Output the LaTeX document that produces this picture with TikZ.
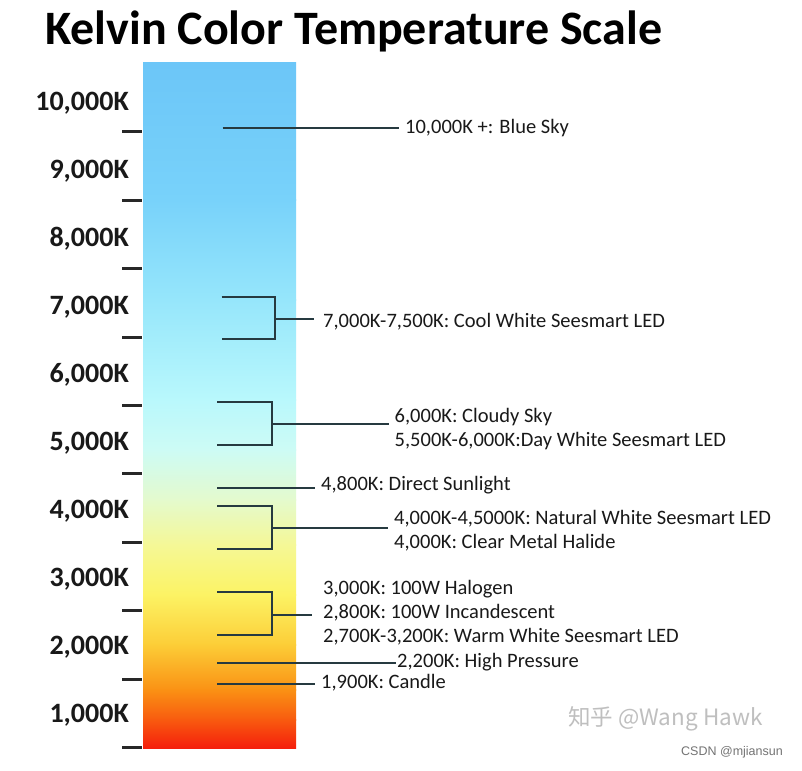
\documentclass[tikz,border=0pt]{standalone}
\usepackage{fontspec}
\setmainfont{Carlito}
\newfontfamily\cjkfont{Noto Sans CJK SC}
\newfontfamily\wmfont{Liberation Sans}
\usepackage{tikz}
\usetikzlibrary{calc}
\definecolor{txtc}{RGB}{25,25,25}
\definecolor{linec}{RGB}{38,58,64}
\definecolor{tickc}{RGB}{40,40,40}
% bar colours, top to bottom
\definecolor{kA}{RGB}{108,198,248}
\definecolor{kB}{RGB}{120,210,250}
\definecolor{kC}{RGB}{150,230,251}
\definecolor{kD}{RGB}{185,248,252}
\definecolor{kE}{RGB}{205,251,245}
\definecolor{kF}{RGB}{228,250,205}
\definecolor{kG}{RGB}{245,248,150}
\definecolor{kH}{RGB}{252,243,100}
\definecolor{kI}{RGB}{252,205,55}
\definecolor{kJ}{RGB}{250,145,20}
\definecolor{kK}{RGB}{248,90,15}
\definecolor{kL}{RGB}{245,30,12}

\begin{document}
\begin{tikzpicture}[x=1pt, y=-1pt,
  axislbl/.style={anchor=east, inner sep=0pt, font=\fontsize{28}{30}\selectfont\bfseries, text=txtc},
  tickmark/.style={line width=3pt, draw=tickc},
  lbl/.style={anchor=west, inner xsep=6pt, inner ysep=0pt, align=left, font=\fontsize{20.5}{24}\selectfont, text=txtc},
  conn/.style={line width=1.7pt, draw=linec}]
  \useasboundingbox[fill=white] (0,0) rectangle (802,770);
  % Title
  \node[anchor=base west, inner sep=0pt, font=\fontsize{48}{50}\selectfont\bfseries, text=black] (title) at (45,45) {Kelvin Color Temperature Scale};
  % Colour bar
  \foreach \ya/\yb/\ca/\cb in {63/200/kA/kB, 200/300/kB/kC, 300/400/kC/kD, 400/450/kD/kE,
      450/500/kE/kF, 500/545/kF/kG, 545/595/kG/kH, 595/645/kH/kI, 645/690/kI/kJ,
      690/720/kJ/kK, 720/748/kK/kL}
    \shade[top color=\ca, bottom color=\cb] (143,\ya-0.4) rectangle (296,\yb+0.4);
  % Scale: labels and ticks
  \foreach \v [count=\k from 0] in {10,9,8,7,6,5,4,3,2,1} {
    \node[axislbl] (k\v) at (129,{103+68*\k}) {\v,000K};
    \draw[tickmark] (122,{131.7+68.44*\k}) -- (142,{131.7+68.44*\k});
  }
  % Blue sky
  \coordinate (sky-a) at (222.7,128.3);
  \node[lbl] (sky) at (399,128) {10,000K +: Blue Sky};
  \draw[conn] (sky-a) -- (sky-a -| sky.west);
  % Cool white LED
  \coordinate (cw-a) at (221.7,296.7);
  \coordinate (cw-b) at (221.7,339.3);
  \coordinate (cw-j) at (275.3,319);
  \node[lbl] (cool) at (317,322) {7,000K-7,500K: Cool White Seesmart LED};
  \draw[conn] (cw-a) -| (cw-j) |- (cw-b);
  \draw[conn, shorten >=3pt] (cw-j) -- (cw-j -| cool.west);
  % Cloudy sky, day white LED
  \coordinate (cs-a) at (217.3,401.7);
  \coordinate (cs-b) at (217.3,445);
  \coordinate (cs-j) at (271.7,424.3);
  \node[lbl] (cloudy) at (388.5,429) {6,000K: Cloudy Sky\\5,500K-6,000K:Day White Seesmart LED};
  \draw[conn] (cs-a) -| (cs-j) |- (cs-b);
  \draw[conn] (cs-j) -- (cs-j -| cloudy.west);
  % Direct sunlight
  \coordinate (sun-a) at (217.3,488.3);
  \node[lbl] (sun) at (315,485) {4,800K: Direct Sunlight};
  \draw[conn] (sun-a) -- (sun-a -| sun.west);
  % Natural white LED, metal halide
  \coordinate (nw-a) at (217.3,505.7);
  \coordinate (nw-b) at (217.3,549);
  \coordinate (nw-j) at (271.7,527.7);
  \node[lbl] (natural) at (388,531) {4,000K-4,5000K: Natural White Seesmart LED\\4,000K: Clear Metal Halide};
  \draw[conn] (nw-a) -| (nw-j) |- (nw-b);
  \draw[conn] (nw-j) -- (nw-j -| natural.west);
  % Halogen, incandescent, warm white LED
  \coordinate (hw-a) at (217.3,592.3);
  \coordinate (hw-b) at (217.3,635.3);
  \coordinate (hw-j) at (271.7,615.3);
  \node[lbl] (halogen) at (317,612.3) {3,000K: 100W Halogen\\2,800K: 100W Incandescent\\2,700K-3,200K: Warm White Seesmart LED};
  \draw[conn] (hw-a) -| (hw-j) |- (hw-b);
  \draw[conn, shorten >=5pt] (hw-j) -- (hw-j -| halogen.west);
  % High pressure
  \coordinate (hp-a) at (217.3,663.3);
  \node[lbl, inner xsep=1pt] (pressure) at (396,662) {2,200K: High Pressure};
  \draw[conn] (hp-a) -- (hp-a -| pressure.west);
  % Candle
  \coordinate (cd-a) at (217.3,684.3);
  \node[lbl] (candle) at (315,683) {1,900K: Candle};
  \draw[conn] (cd-a) -- (cd-a -| candle.west);
  % Watermarks
  \node[anchor=west, inner sep=0pt, font=\cjkfont\fontsize{22.5}{24}\selectfont, text=black!25] (wm1) at (568,719) {知乎 @Wang Hawk};
  \node[anchor=west, inner sep=0pt, font=\wmfont\fontsize{12.5}{14}\selectfont, text=black!55] (wm2) at (681,752) {CSDN @mjiansun};
\end{tikzpicture}
\end{document}
